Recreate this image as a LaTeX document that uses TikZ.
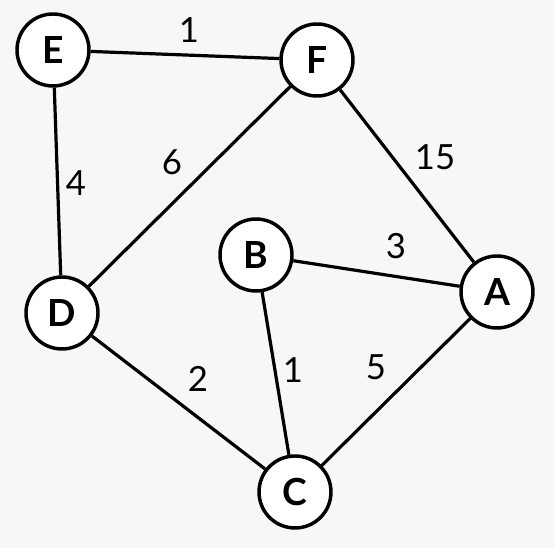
\documentclass[tikz,border=0pt]{standalone}
\usepackage{fontspec}
\setmainfont{Lato}
\usetikzlibrary{positioning}
\definecolor{bggray}{RGB}{247,247,247}
\newcommand{\vfont}{\fontsize{28pt}{28pt}\selectfont\bfseries}
\newcommand{\wfont}{\fontsize{26pt}{26pt}\selectfont}
\tikzset{
  vertex/.style={circle, draw=black, fill=white, line width=2.6pt,
    minimum size=54pt, inner sep=0pt, font=\vfont},
  edge/.style={line width=2.4pt, color=black},
  weight/.style={font=\wfont}
}
\begin{document}
\begin{tikzpicture}[x=0.75pt, y=-0.75pt]
  % background
  \fill[bggray] (0,0) rectangle (554,548);
  \useasboundingbox (0,0) rectangle (554,548);

  % vertices
  \node[vertex] (E) at (53,50) {E};
  \node[vertex] (F) at (317,60) {F};
  \node[vertex] (B) at (256,255) {B};
  \node[vertex] (A) at (497,292) {A};
  \node[vertex] (D) at (62,313) {D};
  \node[vertex] (C) at (295,492) {C};

  % edges
  \draw[edge] (E) -- (F);
  \draw[edge] (E) -- (D);
  \draw[edge] (F) -- (D);
  \draw[edge] (F) -- (A);
  \draw[edge] (B) -- (A);
  \draw[edge] (B) -- (C);
  \draw[edge] (D) -- (C);
  \draw[edge] (A) -- (C);

  % weights
  \node[weight] (wEF) at (189,30) {1};
  \node[weight] (wFA) at (435,157) {15};
  \node[weight] (wFD) at (172,162) {6};
  \node[weight] (wED) at (76,183) {4};
  \node[weight] (wBA) at (396,246) {3};
  \node[weight] (wDC) at (198,379) {2};
  \node[weight] (wBC) at (293,370) {1};
  \node[weight] (wAC) at (376,367) {5};
\end{tikzpicture}
\end{document}
